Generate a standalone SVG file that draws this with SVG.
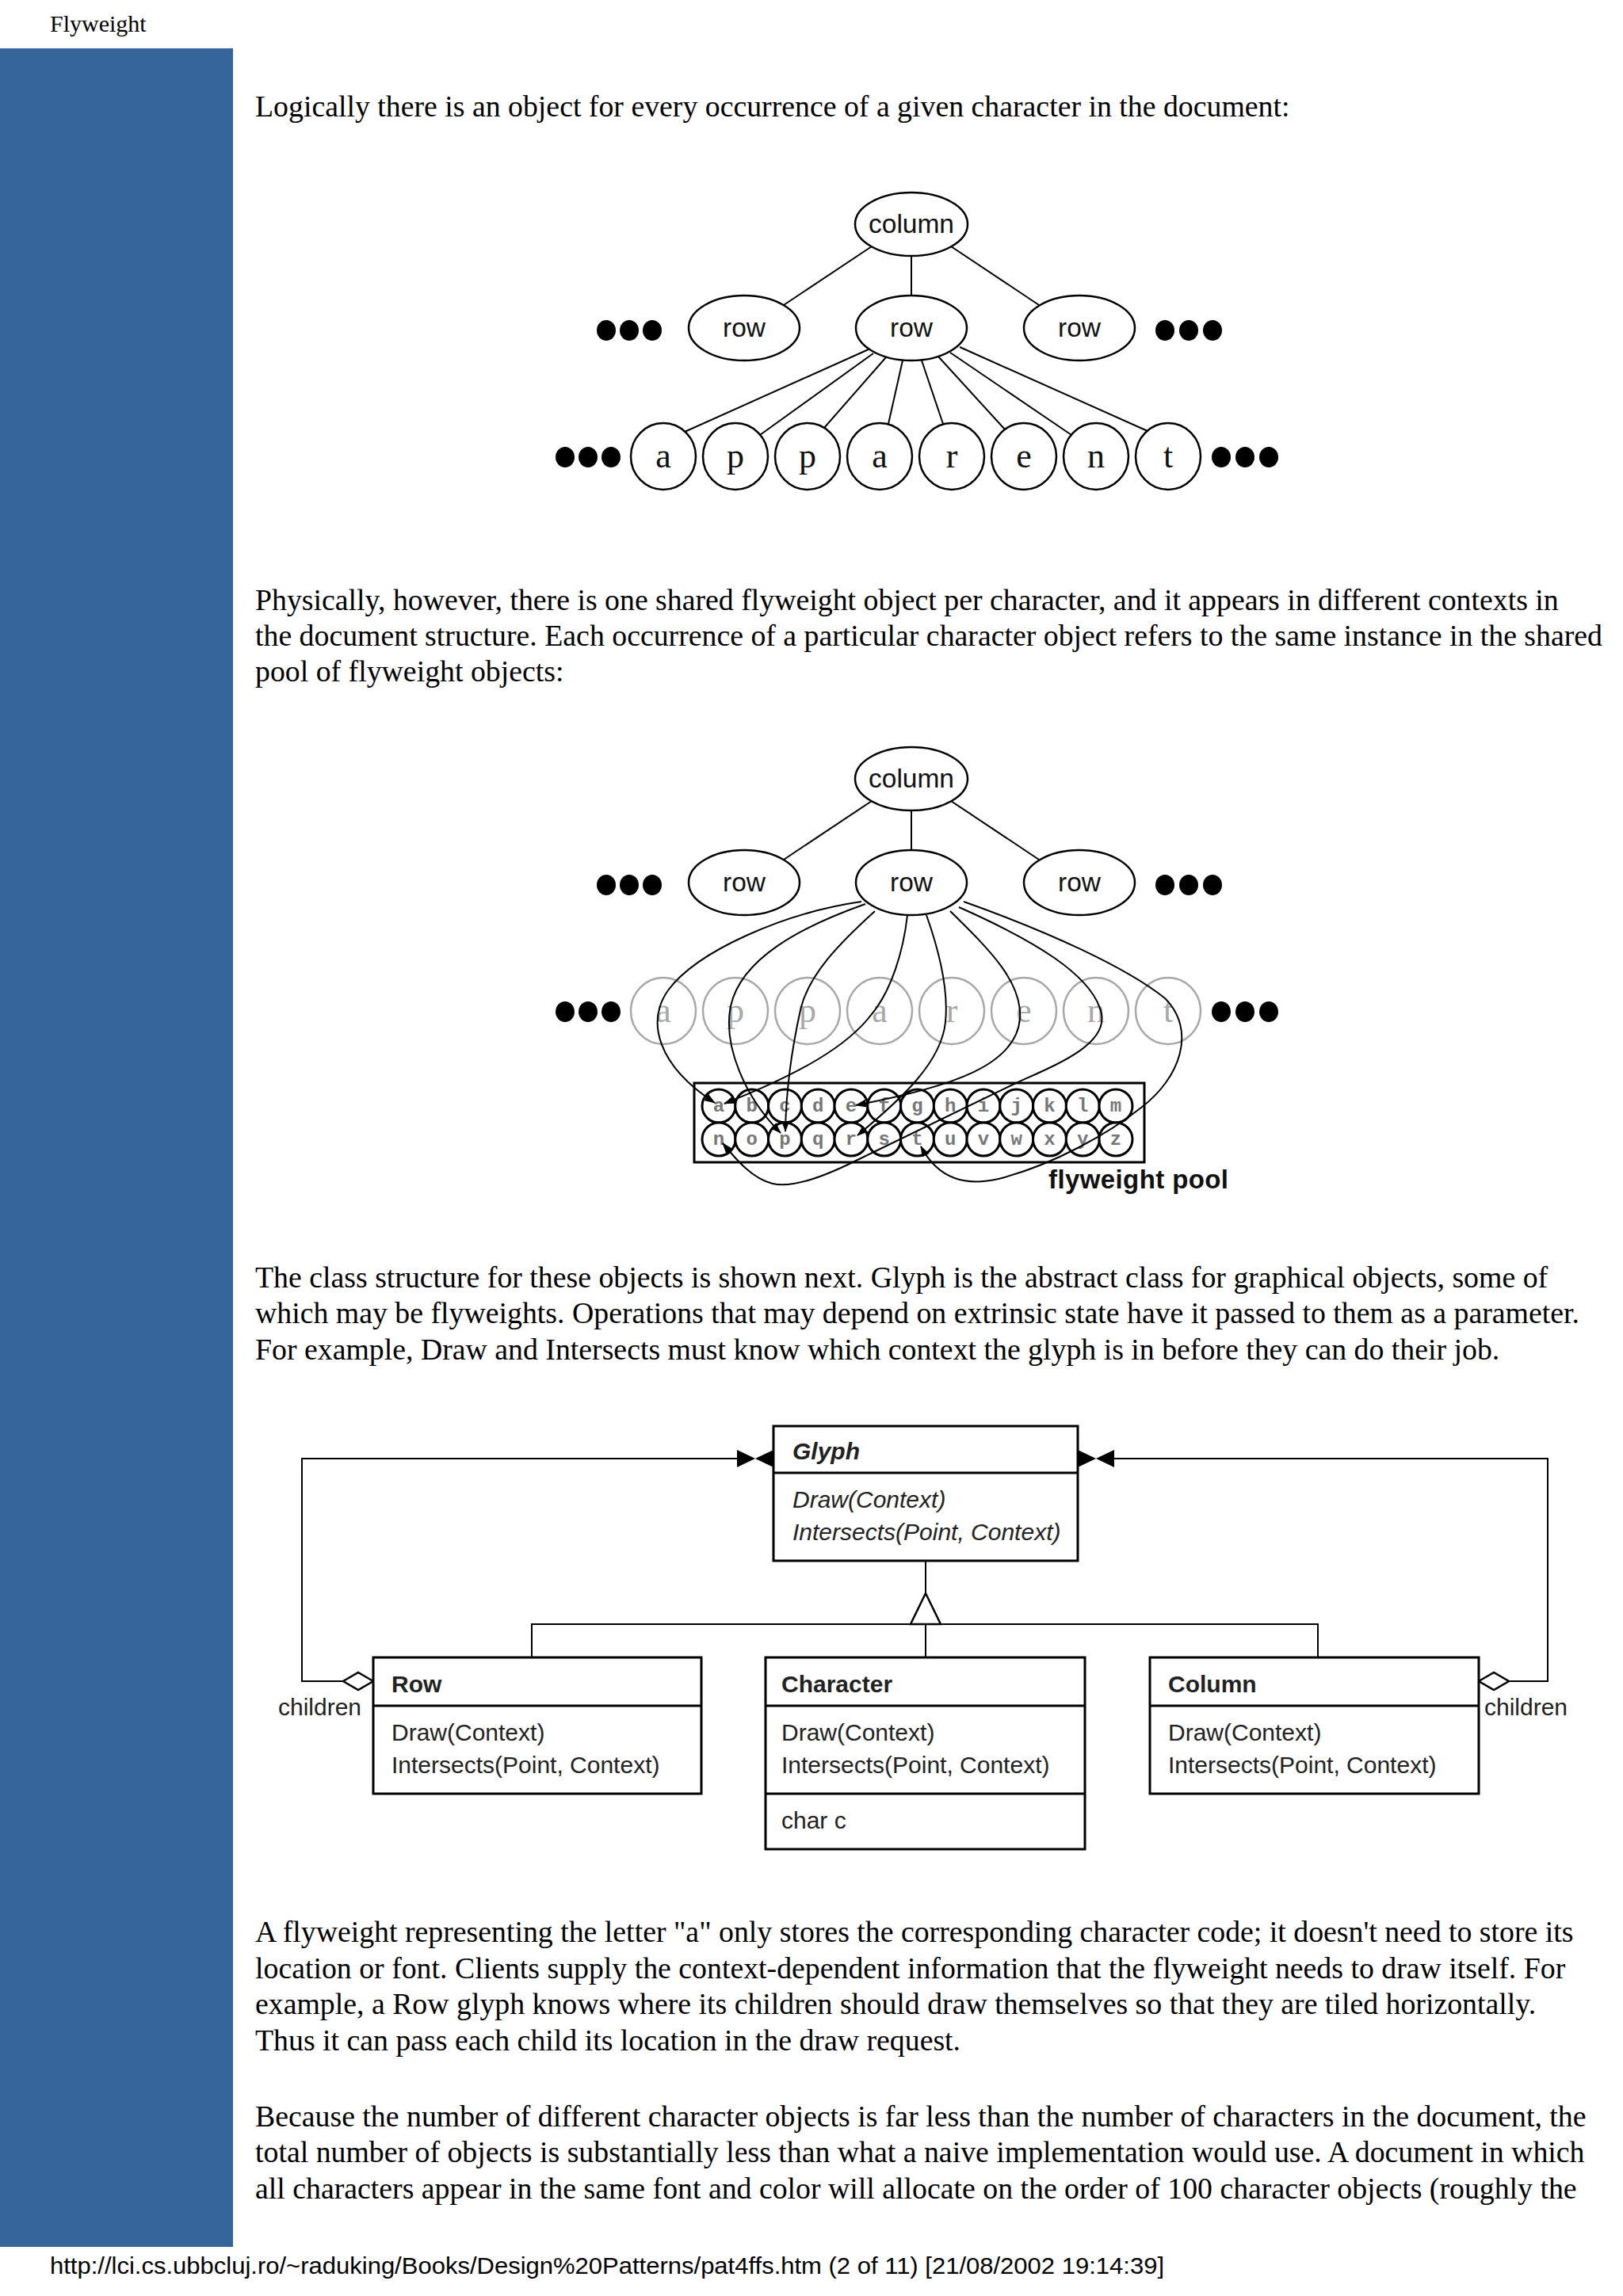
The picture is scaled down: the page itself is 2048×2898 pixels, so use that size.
<svg xmlns="http://www.w3.org/2000/svg" width="2048" height="2898" viewBox="0 0 2048 2898">
<style>
.body{font-family:"Liberation Serif","Times New Roman",serif;font-size:37.8px;fill:#000}
.node{fill:#fff;stroke:#000;stroke-width:2.5}
.ghost{fill:none;stroke:#a8a8a8;stroke-width:2.5}
.lbl{font-family:"Liberation Sans",Arial,sans-serif;font-size:33.5px;text-anchor:middle;fill:#111}
.chr{font-family:"Liberation Serif","Times New Roman",serif;font-size:44px;text-anchor:middle;fill:#111}
.gchr{font-family:"Liberation Serif","Times New Roman",serif;font-size:44px;text-anchor:middle;fill:#a8a8a8}
.dot{fill:#000}
.edge{stroke:#000;stroke-width:2;fill:none}
.curve{stroke:#000;stroke-width:2;fill:none;marker-end:url(#arr)}
.pc{fill:#fff;stroke:#000;stroke-width:3}
.pl{font-family:"Liberation Mono","Courier New",monospace;font-size:24px;font-weight:bold;fill:#777;text-anchor:middle}
.box{fill:#fff;stroke:#000;stroke-width:3}
.uml{font-family:"Liberation Sans",Arial,sans-serif;font-size:30px;fill:#222}
.b{font-weight:bold}
.i{font-style:italic}
.dia{fill:#fff;stroke:#000;stroke-width:2.5}
.tie{fill:#000}
</style>
<defs>
<marker id="arr" viewBox="0 0 14 10" refX="13" refY="5" markerWidth="14" markerHeight="10" markerUnits="userSpaceOnUse" orient="auto">
<path d="M0,0 L14,5 L0,10 Z" fill="#000"/>
</marker>
</defs>
<rect width="2048" height="2898" fill="#fff"/>
<text x="63" y="40" font-family="Liberation Serif, Times New Roman, serif" font-size="30">Flyweight</text>
<rect x="0" y="61" width="294" height="2775" fill="#35659a"/>

<g id="text1" class="body">
<text x="322" y="147">Logically there is an object for every occurrence of a given character in the document:</text>
</g>

<g id="connectors1" class="edge">
<line x1="1100" y1="311" x2="989" y2="385"/>
<line x1="1150" y1="323" x2="1150" y2="373"/>
<line x1="1200" y1="311" x2="1311" y2="385"/>
<line x1="1096" y1="441" x2="864" y2="545"/>
<line x1="1102" y1="446" x2="959" y2="549"/>
<line x1="1118" y1="451" x2="1040" y2="540"/>
<line x1="1139" y1="455" x2="1121" y2="535"/>
<line x1="1163" y1="455" x2="1190" y2="535"/>
<line x1="1184" y1="450" x2="1268" y2="542"/>
<line x1="1199" y1="445" x2="1352" y2="549"/>
<line x1="1211" y1="438" x2="1448" y2="544"/>
</g>
<g id="tree1">
<g id="t1-column"><ellipse class="node" cx="1150" cy="283" rx="71" ry="40"/><text class="lbl" x="1150" y="294">column</text></g>
<g id="t1-row1"><ellipse class="node" cx="939" cy="414" rx="70" ry="41"/><text class="lbl" x="939" y="425">row</text></g>
<g id="t1-row2"><ellipse class="node" cx="1150" cy="414" rx="70" ry="41"/><text class="lbl" x="1150" y="425">row</text></g>
<g id="t1-row3"><ellipse class="node" cx="1362" cy="414" rx="70" ry="41"/><text class="lbl" x="1362" y="425">row</text></g>
<g id="t1-dots" class="dot">
<ellipse cx="765" cy="417" rx="12" ry="13"/><ellipse cx="794" cy="417" rx="12" ry="13"/><ellipse cx="823" cy="417" rx="12" ry="13"/>
<ellipse cx="1470" cy="417" rx="12" ry="13"/><ellipse cx="1500" cy="417" rx="12" ry="13"/><ellipse cx="1530" cy="417" rx="12" ry="13"/>
<ellipse cx="713" cy="577" rx="12" ry="13"/><ellipse cx="742" cy="577" rx="12" ry="13"/><ellipse cx="771" cy="577" rx="12" ry="13"/>
<ellipse cx="1541" cy="577" rx="12" ry="13"/><ellipse cx="1571" cy="577" rx="12" ry="13"/><ellipse cx="1601" cy="577" rx="12" ry="13"/>
</g>
<g id="t1-a1"><ellipse class="node" cx="837" cy="576" rx="41" ry="42"/><text class="chr" x="837" y="590">a</text></g>
<g id="t1-p1"><ellipse class="node" cx="928" cy="576" rx="41" ry="42"/><text class="chr" x="928" y="590">p</text></g>
<g id="t1-p2"><ellipse class="node" cx="1019" cy="576" rx="41" ry="42"/><text class="chr" x="1019" y="590">p</text></g>
<g id="t1-a2"><ellipse class="node" cx="1110" cy="576" rx="41" ry="42"/><text class="chr" x="1110" y="590">a</text></g>
<g id="t1-r"><ellipse class="node" cx="1201" cy="576" rx="41" ry="42"/><text class="chr" x="1201" y="590">r</text></g>
<g id="t1-e"><ellipse class="node" cx="1292" cy="576" rx="41" ry="42"/><text class="chr" x="1292" y="590">e</text></g>
<g id="t1-n"><ellipse class="node" cx="1383" cy="576" rx="41" ry="42"/><text class="chr" x="1383" y="590">n</text></g>
<g id="t1-t"><ellipse class="node" cx="1474" cy="576" rx="41" ry="42"/><text class="chr" x="1474" y="590">t</text></g>
</g>

<g id="text2" class="body">
<text x="322" y="770">Physically, however, there is one shared flyweight object per character, and it appears in different contexts in</text>
<text x="322" y="815">the document structure. Each occurrence of a particular character object refers to the same instance in the shared</text>
<text x="322" y="860">pool of flyweight objects:</text>
</g>

<g id="tree2">
<g id="t2-column"><ellipse class="node" cx="1150" cy="983" rx="71" ry="40"/><text class="lbl" x="1150" y="994">column</text></g>
<g id="t2-row1"><ellipse class="node" cx="939" cy="1114" rx="70" ry="41"/><text class="lbl" x="939" y="1125">row</text></g>
<g id="t2-row2"><ellipse class="node" cx="1150" cy="1114" rx="70" ry="41"/><text class="lbl" x="1150" y="1125">row</text></g>
<g id="t2-row3"><ellipse class="node" cx="1362" cy="1114" rx="70" ry="41"/><text class="lbl" x="1362" y="1125">row</text></g>
<g id="t2-dots" class="dot">
<ellipse cx="765" cy="1117" rx="12" ry="13"/><ellipse cx="794" cy="1117" rx="12" ry="13"/><ellipse cx="823" cy="1117" rx="12" ry="13"/>
<ellipse cx="1470" cy="1117" rx="12" ry="13"/><ellipse cx="1500" cy="1117" rx="12" ry="13"/><ellipse cx="1530" cy="1117" rx="12" ry="13"/>
<ellipse cx="713" cy="1277" rx="12" ry="13"/><ellipse cx="742" cy="1277" rx="12" ry="13"/><ellipse cx="771" cy="1277" rx="12" ry="13"/>
<ellipse cx="1541" cy="1277" rx="12" ry="13"/><ellipse cx="1571" cy="1277" rx="12" ry="13"/><ellipse cx="1601" cy="1277" rx="12" ry="13"/>
</g>
<g id="t2-a1"><ellipse class="ghost" cx="837" cy="1276" rx="41" ry="42"/><text class="gchr" x="837" y="1290">a</text></g>
<g id="t2-p1"><ellipse class="ghost" cx="928" cy="1276" rx="41" ry="42"/><text class="gchr" x="928" y="1290">p</text></g>
<g id="t2-p2"><ellipse class="ghost" cx="1019" cy="1276" rx="41" ry="42"/><text class="gchr" x="1019" y="1290">p</text></g>
<g id="t2-a2"><ellipse class="ghost" cx="1110" cy="1276" rx="41" ry="42"/><text class="gchr" x="1110" y="1290">a</text></g>
<g id="t2-r"><ellipse class="ghost" cx="1201" cy="1276" rx="41" ry="42"/><text class="gchr" x="1201" y="1290">r</text></g>
<g id="t2-e"><ellipse class="ghost" cx="1292" cy="1276" rx="41" ry="42"/><text class="gchr" x="1292" y="1290">e</text></g>
<g id="t2-n"><ellipse class="ghost" cx="1383" cy="1276" rx="41" ry="42"/><text class="gchr" x="1383" y="1290">n</text></g>
<g id="t2-t"><ellipse class="ghost" cx="1474" cy="1276" rx="41" ry="42"/><text class="gchr" x="1474" y="1290">t</text></g>
<g id="pool">
<rect x="876" y="1367" width="568" height="100" fill="#fff" stroke="#000" stroke-width="3"/>
<g class="pc">
<circle cx="907" cy="1396" r="21"/><circle cx="948.75" cy="1396" r="21"/><circle cx="990.5" cy="1396" r="21"/><circle cx="1032.25" cy="1396" r="21"/><circle cx="1074" cy="1396" r="21"/><circle cx="1115.75" cy="1396" r="21"/><circle cx="1157.5" cy="1396" r="21"/><circle cx="1199.25" cy="1396" r="21"/><circle cx="1241" cy="1396" r="21"/><circle cx="1282.75" cy="1396" r="21"/><circle cx="1324.5" cy="1396" r="21"/><circle cx="1366.25" cy="1396" r="21"/><circle cx="1408" cy="1396" r="21"/>
<circle cx="907" cy="1438" r="21"/><circle cx="948.75" cy="1438" r="21"/><circle cx="990.5" cy="1438" r="21"/><circle cx="1032.25" cy="1438" r="21"/><circle cx="1074" cy="1438" r="21"/><circle cx="1115.75" cy="1438" r="21"/><circle cx="1157.5" cy="1438" r="21"/><circle cx="1199.25" cy="1438" r="21"/><circle cx="1241" cy="1438" r="21"/><circle cx="1282.75" cy="1438" r="21"/><circle cx="1324.5" cy="1438" r="21"/><circle cx="1366.25" cy="1438" r="21"/><circle cx="1408" cy="1438" r="21"/>
</g>
<g class="pl">
<text x="907" y="1403">a</text><text x="948.75" y="1403">b</text><text x="990.5" y="1403">c</text><text x="1032.25" y="1403">d</text><text x="1074" y="1403">e</text><text x="1115.75" y="1403">f</text><text x="1157.5" y="1403">g</text><text x="1199.25" y="1403">h</text><text x="1241" y="1403">i</text><text x="1282.75" y="1403">j</text><text x="1324.5" y="1403">k</text><text x="1366.25" y="1403">l</text><text x="1408" y="1403">m</text>
<text x="907" y="1445">n</text><text x="948.75" y="1445">o</text><text x="990.5" y="1445">p</text><text x="1032.25" y="1445">q</text><text x="1074" y="1445">r</text><text x="1115.75" y="1445">s</text><text x="1157.5" y="1445">t</text><text x="1199.25" y="1445">u</text><text x="1241" y="1445">v</text><text x="1282.75" y="1445">w</text><text x="1324.5" y="1445">x</text><text x="1366.25" y="1445">y</text><text x="1408" y="1445">z</text>
</g>
<text x="1323" y="1500" font-family="Liberation Sans, Arial, sans-serif" font-size="33" font-weight="bold" fill="#111" textLength="227">flyweight pool</text>
</g>
</g>

<g id="connectors2">
<g class="edge">
<line x1="1100" y1="1011" x2="989" y2="1085"/>
<line x1="1150" y1="1023" x2="1150" y2="1073"/>
<line x1="1200" y1="1011" x2="1311" y2="1085"/>
</g>
<g class="curve">
<path d="M1087,1138 C990,1152 880,1200 843,1250 C815,1290 830,1345 902,1392"/>
<path d="M1092,1141 C1010,1170 935,1210 922,1270 C912,1320 940,1385 985,1430"/>
<path d="M1104,1150 C1060,1190 1020,1230 1010,1275 C1000,1320 992,1370 991,1428"/>
<path d="M1145,1155 C1140,1200 1125,1250 1100,1280 C1070,1320 1010,1355 914,1393"/>
<path d="M1169,1155 C1185,1200 1197,1250 1193,1290 C1188,1340 1140,1385 1082,1433"/>
<path d="M1199,1150 C1250,1200 1290,1240 1287,1285 C1283,1345 1200,1372 1080,1395"/>
<path d="M1210,1145 C1300,1185 1380,1230 1390,1280 C1397,1320 1330,1345 1280,1368 L1080,1465 C1040,1485 1000,1500 975,1494 C950,1488 930,1465 912,1443"/>
<path d="M1216,1138 C1320,1175 1420,1220 1470,1260 C1510,1300 1490,1360 1440,1398 C1400,1430 1330,1470 1260,1488 C1220,1497 1185,1490 1162,1447"/>
</g>
</g>

<g id="text3" class="body">
<text x="322" y="1625">The class structure for these objects is shown next. Glyph is the abstract class for graphical objects, some of</text>
<text x="322" y="1670">which may be flyweights. Operations that may depend on extrinsic state have it passed to them as a parameter.</text>
<text x="322" y="1716">For example, Draw and Intersects must know which context the glyph is in before they can do their job.</text>
</g>

<g id="uml-connectors">
<g class="edge" stroke-width="2.5">
<line x1="1168" y1="1970" x2="1168" y2="2011"/>
<polyline points="671,2092 671,2050 1663,2050 1663,2092"/>
<line x1="1168" y1="2050" x2="1168" y2="2092"/>
<polyline points="433,2122 381,2122 381,1841 930,1841"/>
<polyline points="1904,2122 1953,2122 1953,1841 1406,1841"/>
</g>
<polygon points="1168,2011 1149,2050 1187,2050" fill="#fff" stroke="#000" stroke-width="2.5"/>
<polygon class="dia" points="471,2122 452,2111 433,2122 452,2133"/>
<polygon class="dia" points="1866,2122 1885,2111 1904,2122 1885,2133"/>
<polygon class="tie" points="930,1830 930,1852 953,1841"/>
<polygon class="tie" points="976,1830 976,1852 953,1841"/>
<polygon class="tie" points="1406,1830 1406,1852 1383,1841"/>
<polygon class="tie" points="1360,1830 1360,1852 1383,1841"/>
</g>
<g id="glyph">
<rect class="box" x="976" y="1800" width="384" height="170"/>
<line x1="976" y1="1859" x2="1360" y2="1859" stroke="#000" stroke-width="3"/>
<text class="uml b i" x="1000" y="1842">Glyph</text>
<text class="uml i" x="1000" y="1903">Draw(Context)</text>
<text class="uml i" x="1000" y="1944">Intersects(Point, Context)</text>
</g>
<g id="row">
<rect class="box" x="471" y="2092" width="414" height="172"/>
<line x1="471" y1="2153" x2="885" y2="2153" stroke="#000" stroke-width="3"/>
<text class="uml b" x="494" y="2136">Row</text>
<text class="uml" x="494" y="2197">Draw(Context)</text>
<text class="uml" x="494" y="2238">Intersects(Point, Context)</text>
</g>
<g id="character">
<rect class="box" x="966" y="2092" width="403" height="242"/>
<line x1="966" y1="2153" x2="1369" y2="2153" stroke="#000" stroke-width="3"/>
<line x1="966" y1="2264" x2="1369" y2="2264" stroke="#000" stroke-width="3"/>
<text class="uml b" x="986" y="2136">Character</text>
<text class="uml" x="986" y="2197">Draw(Context)</text>
<text class="uml" x="986" y="2238">Intersects(Point, Context)</text>
<text class="uml" x="986" y="2308">char c</text>
</g>
<g id="column">
<rect class="box" x="1451" y="2092" width="415" height="172"/>
<line x1="1451" y1="2153" x2="1866" y2="2153" stroke="#000" stroke-width="3"/>
<text class="uml b" x="1474" y="2136">Column</text>
<text class="uml" x="1474" y="2197">Draw(Context)</text>
<text class="uml" x="1474" y="2238">Intersects(Point, Context)</text>
</g>
<text class="uml" x="351" y="2165">children</text>
<text class="uml" x="1873" y="2165">children</text>

<g id="text4" class="body">
<text x="322" y="2451">A flyweight representing the letter "a" only stores the corresponding character code; it doesn't need to store its</text>
<text x="322" y="2497">location or font. Clients supply the context-dependent information that the flyweight needs to draw itself. For</text>
<text x="322" y="2542">example, a Row glyph knows where its children should draw themselves so that they are tiled horizontally.</text>
<text x="322" y="2588">Thus it can pass each child its location in the draw request.</text>
<text x="322" y="2684">Because the number of different character objects is far less than the number of characters in the document, the</text>
<text x="322" y="2729">total number of objects is substantially less than what a naive implementation would use. A document in which</text>
<text x="322" y="2775">all characters appear in the same font and color will allocate on the order of 100 character objects (roughly the</text>
</g>
<text x="63" y="2870" font-family="Liberation Sans, Arial, sans-serif" font-size="29" fill="#000" textLength="1406" lengthAdjust="spacingAndGlyphs">http://lci.cs.ubbcluj.ro/~raduking/Books/Design%20Patterns/pat4ffs.htm (2 of 11) [21/08/2002 19:14:39]</text>
</svg>
